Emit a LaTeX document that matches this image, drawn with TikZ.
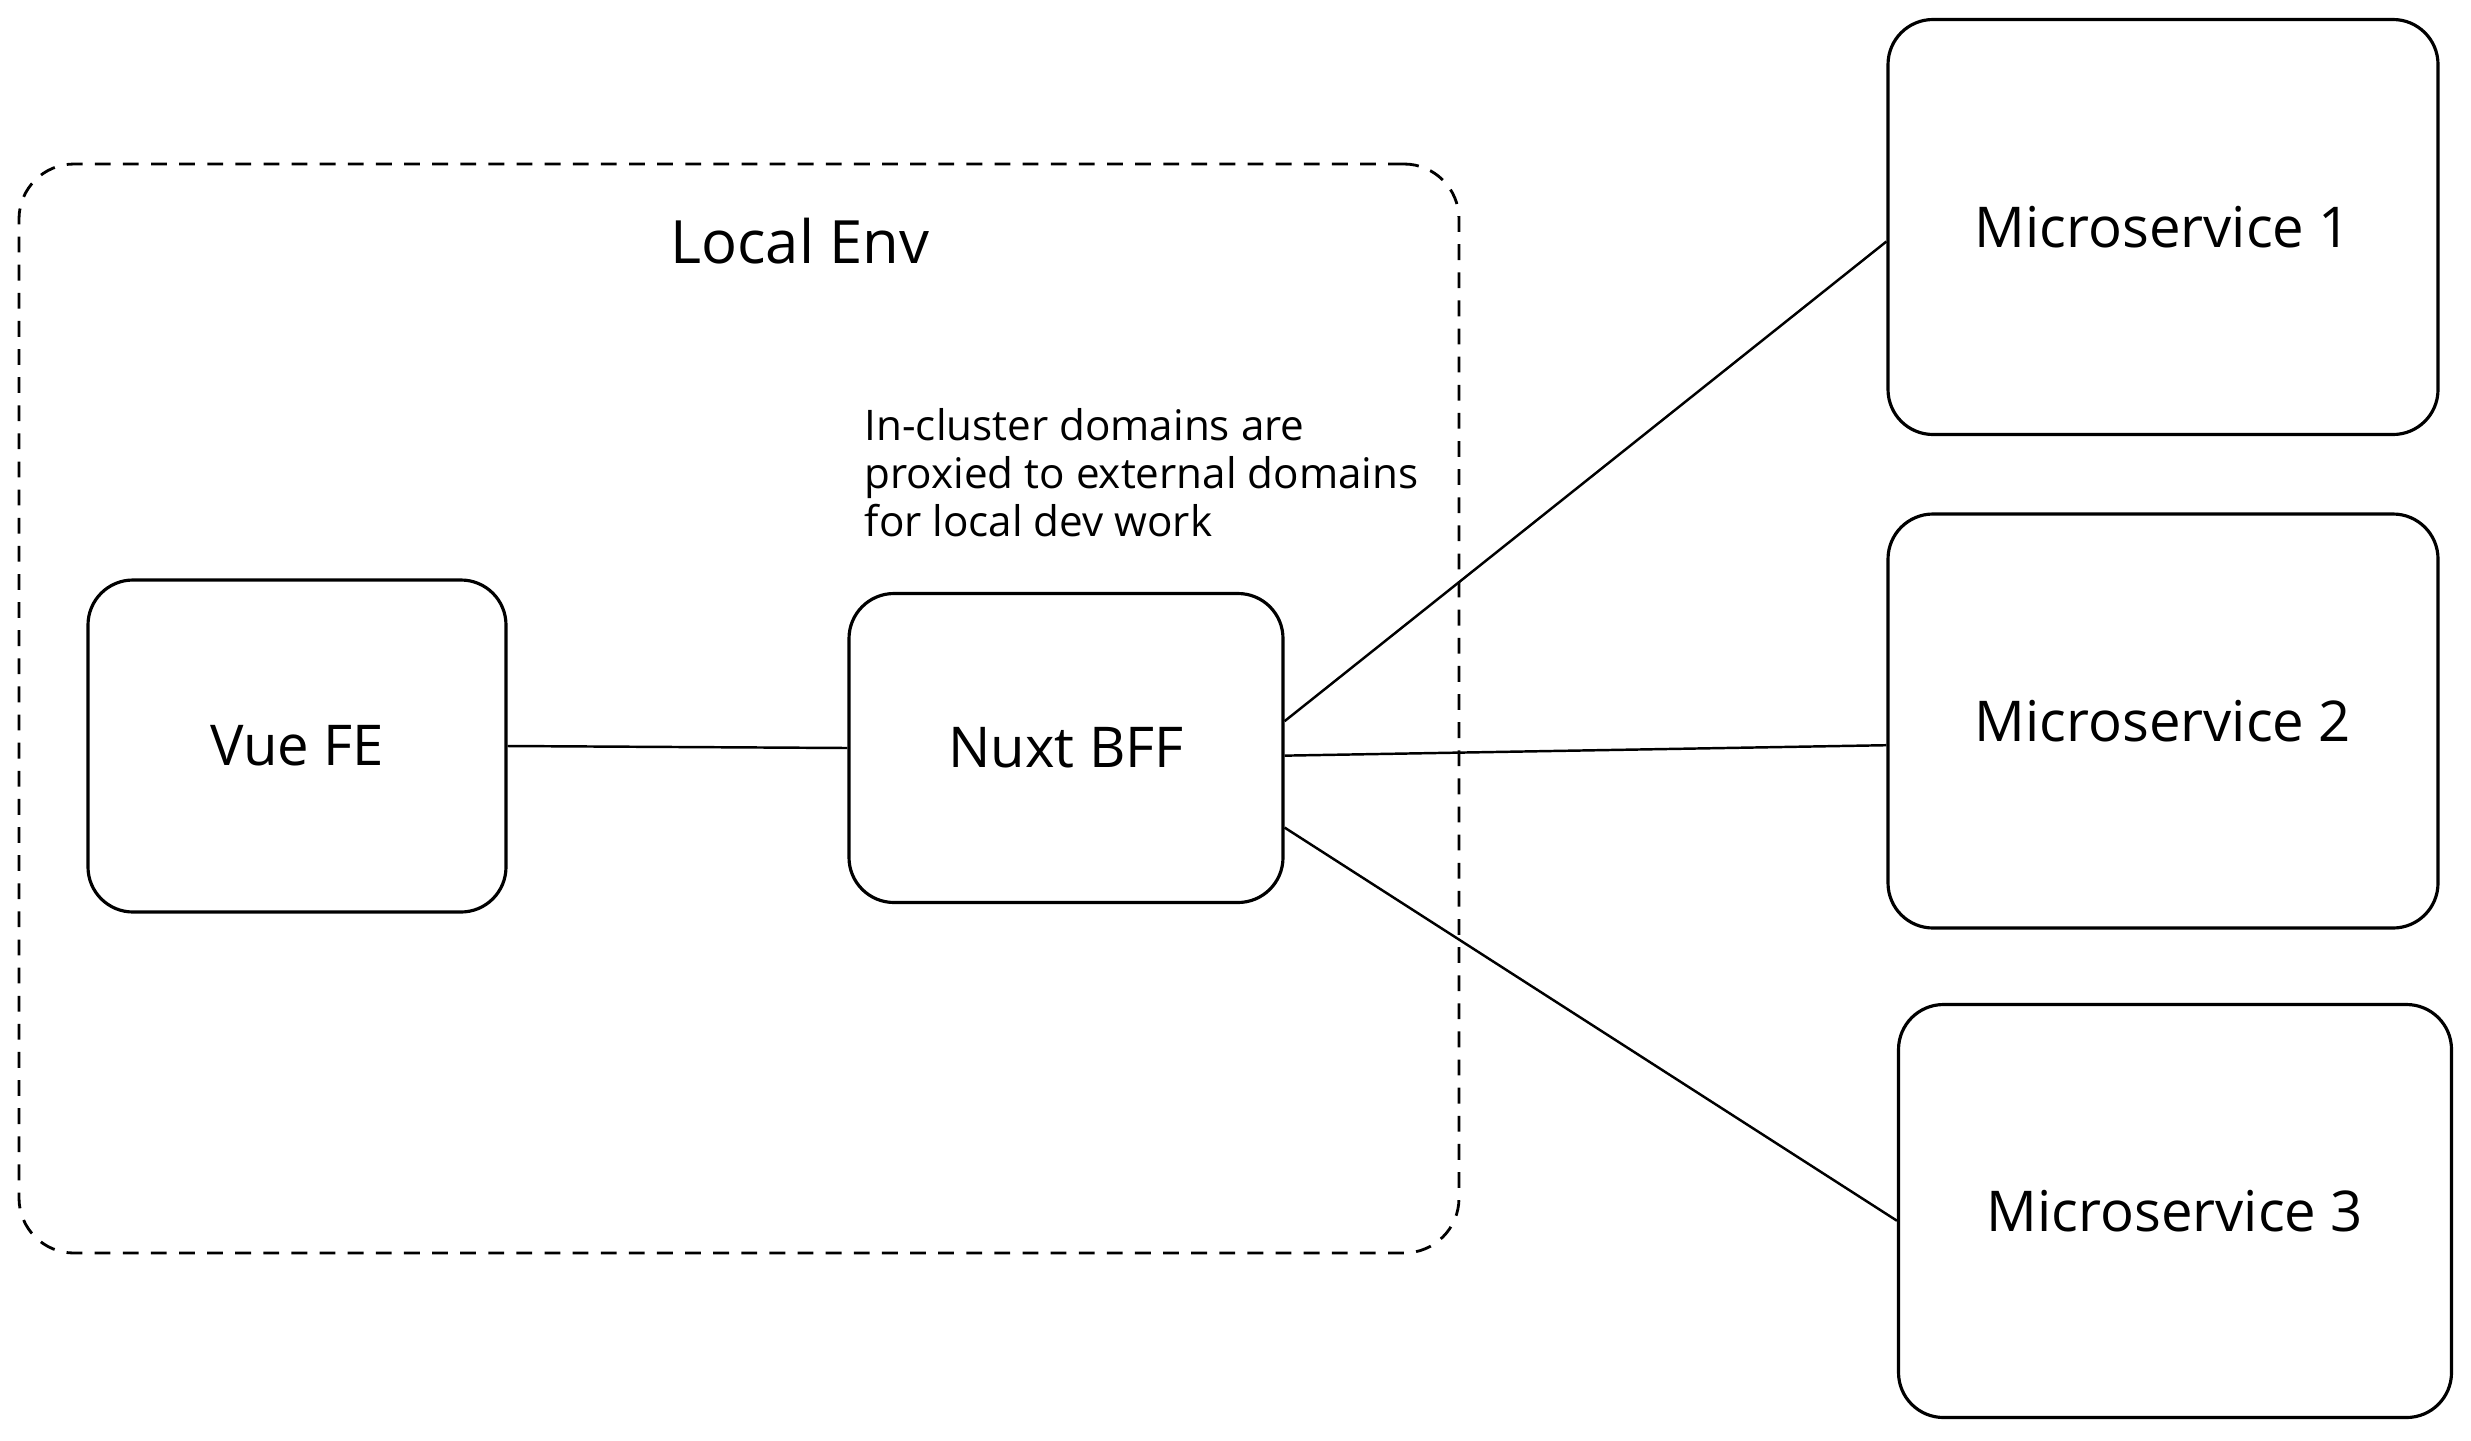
\documentclass[tikz,border=0pt]{standalone}
\usepackage{fontspec}
\setmainfont{Open Sans}

\begin{document}
\begin{tikzpicture}[
        svcbox/.style={draw, line width=0.9pt, rounded corners=0.45cm, inner sep=0pt, font=\fontsize{16}{19}\selectfont},
        envbox/.style={draw, line width=0.8pt, dash pattern=on 4.5pt off 3.5pt, rounded corners=0.55cm, inner sep=0pt},
        link/.style={line width=0.7pt}
    ]
        \useasboundingbox (0,0) rectangle (24.71,-14.40);

        \node[envbox, minimum width=14.40cm, minimum height=10.89cm] (env) at (7.39,-7.085) {};
        \node[font=\fontsize{17}{20}\selectfont] (envlabel) at (8.00,-2.41) {Local Env};

        \node[svcbox, minimum width=4.18cm, minimum height=3.32cm] (vue) at (2.97,-7.46) {Vue FE};
        \node[svcbox, minimum width=4.34cm, minimum height=3.09cm] (nuxt) at (10.66,-7.48) {Nuxt BFF};
        \node[anchor=west, align=left, inner sep=0pt, font=\fontsize{12}{13.7}\selectfont] (note) at (8.64,-4.73)
            {In-cluster domains are\\proxied to external domains\\for local dev work};

        \node[svcbox, minimum width=5.50cm, minimum height=4.15cm] (ms1) at (21.63,-2.27) {Microservice 1};
        \node[svcbox, minimum width=5.50cm, minimum height=4.14cm] (ms2) at (21.63,-7.21) {Microservice 2};
        \node[svcbox, minimum width=5.53cm, minimum height=4.13cm] (ms3) at (21.75,-12.11) {Microservice 3};

        \draw[link] (vue.east) -- (nuxt.west);
        \draw[link] (nuxt.7) -- (ms1.183.5);
        \draw[link] (nuxt.-2.4) -- (ms2.185.6);
        \draw[link] (nuxt.-20) -- (ms3.182.9);
    \end{tikzpicture}
\end{document}
